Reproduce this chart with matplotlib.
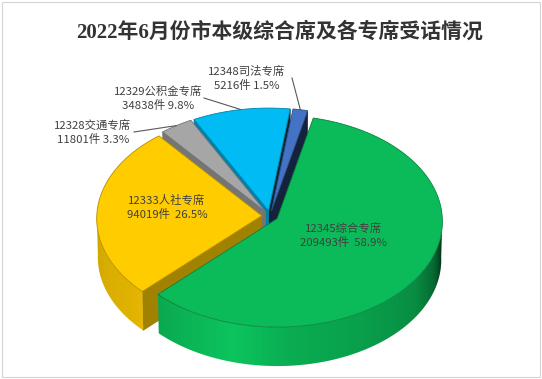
import numpy as np
import matplotlib.pyplot as plt
from matplotlib.patches import Polygon, Rectangle
from matplotlib.colors import to_rgb

plt.rcParams['font.family'] = ['Noto Sans CJK SC', 'DejaVu Sans']

# data (clockwise from the top, as in the sheet)
names = ['12345综合专席', '12333人社专席', '12328交通专席', '12329公积金专席', '12348司法专席']
calls = [209493, 94019, 11801, 34838, 5216]
pcts = [58.9, 26.5, 3.3, 9.8, 1.5]
colors = ['#0bbb59', '#ffcc00', '#a6a6a6', '#00bbf4', '#4472c4']
title = '2022年6月份市本级综合席及各专席受话情况'

# fake 3d pie geometry (pixels)
W, H = 542, 379
cx, cy = 270, 216
R = 165
alpha = np.radians(39.8)
S, C = np.sin(alpha), np.cos(alpha)
D = 30.0        # camera distance, in radii
h = 0.307       # thickness, in radii
explode = 0.05
start = 13.0    # first slice angle, deg clockwise from 12 o'clock

# lighting vs. direction of the face normal (0 = back, 180 = front)
light_ang = [0, 90, 100, 110, 125, 150, 175, 195, 215, 230, 250, 270, 360]
light_val = [0.1, 0.1, 0.3, 0.55, 0.75, 0.85, 0.92, 1.05, 0.95, 0.88, 0.85, 0.8, 0.8]


def proj(u, v, z):
    w = v * C - z * S
    s = D / (D + w)
    return cx + R * u * s, cy - R * (v * S + z * C) * s, w


def shade(col, k):
    return tuple(np.clip(np.array(to_rgb(col)) * k, 0, 1))


def light(n):
    return np.interp(np.asarray(n) % 360, light_ang, light_val)


fig = plt.figure(figsize=(W / 100, H / 100), dpi=100)
ax = fig.add_axes([0, 0, 1, 1])
ax.set_xlim(0, W)
ax.set_ylim(H, 0)
ax.axis('off')
ax.add_patch(Rectangle((1.5, 1.5), W - 4, H - 4, fill=False, ec='#d4d4d4', lw=0.8))

vals = np.array(calls, dtype=float)
fr = vals / vals.sum()
edges = start + np.concatenate([[0], np.cumsum(fr) * 360])

walls = []   # (depth, kind, data)
tops = []
for i in range(len(vals)):
    a0, a1 = edges[i], edges[i + 1]
    am = np.radians((a0 + a1) / 2)
    ou, ov = explode * np.sin(am), explode * np.cos(am)
    col = colors[i]

    phis = np.radians(np.linspace(a0, a1, max(4, int((a1 - a0) * 2))))
    top = [proj(ou, ov, 0)[:2]] + [proj(ou + np.sin(p), ov + np.cos(p), 0)[:2] for p in phis]
    tops.append((top, col))

    # outer curved wall, only the part facing the viewer (90..270 deg)
    lo, hi = max(a0, 90.0), min(a1, 270.0)
    if hi > lo:
        ph = np.radians(np.linspace(lo, hi, 200))
        up = [proj(ou + np.sin(p), ov + np.cos(p), 0) for p in ph]
        dn = [proj(ou + np.sin(p), ov + np.cos(p), -h) for p in ph[::-1]]
        depth = np.mean([q[2] for q in up + dn])
        xs = np.array([q[0] for q in up])
        walls.append((depth, 'wall', ([q[:2] for q in up + dn], xs, np.degrees(ph), col)))

    # radial cut faces
    for ang, nrm in ((a0, a0 - 90), (a1, a1 + 90)):
        if np.cos(np.radians(nrm)) >= 0:
            continue
        p = np.radians(ang)
        pts = [proj(ou, ov, 0), proj(ou + np.sin(p), ov + np.cos(p), 0),
               proj(ou + np.sin(p), ov + np.cos(p), -h), proj(ou, ov, -h)]
        depth = np.mean([q[2] for q in pts])
        walls.append((depth, 'cut', ([q[:2] for q in pts], shade(col, 0.8 * light(nrm)))))

z = 2
for depth, kind, data in sorted(walls, key=lambda t: -t[0]):
    if kind == 'cut':
        pts, fc = data
        ax.add_patch(Polygon(pts, closed=True, fc=fc, ec=fc, lw=0.5, zorder=z))
    else:
        pts, xs, degs, col = data
        poly = Polygon(pts, closed=True, fc='none', ec='none', zorder=z)
        ax.add_patch(poly)
        order = np.argsort(xs)
        x0, x1 = xs.min() - 1, xs.max() + 1
        y0 = min(q[1] for q in pts) - 1
        y1 = max(q[1] for q in pts) + 1
        gx = np.linspace(x0, x1, 400)
        gdeg = np.interp(gx, xs[order], degs[order])
        base = np.array(to_rgb(col))
        img = np.clip(base[None, :] * light(gdeg)[:, None], 0, 1)[None, :, :]
        im = ax.imshow(img, extent=[x0, x1, y1, y0], aspect='auto',
                       interpolation='bilinear', zorder=z)
        im.set_clip_path(poly)
    z += 1

for pts, col in tops:
    ax.add_patch(Polygon(pts, closed=True, fc=col, ec=shade(col, 0.7), lw=0.6, zorder=z))

ax.set_xlim(0, W)
ax.set_ylim(H, 0)

# labels
txt = dict(fontsize=8.2, color='#404040', ha='center', va='center', zorder=z + 1)
line2 = ['%d件  %.1f%%', '%d件  %.1f%%', '%d件 %.1f%%', '%d件 %.1f%%', '%d件 %.1f%%']
lab_xy = [(344, 228), (167, 200), (93, 125), (158, 91), (247, 71)]
for i in range(len(vals)):
    x, y = lab_xy[i]
    ax.text(x, y, names[i], **txt)
    ax.text(x, y + 14, line2[i] % (calls[i], pcts[i]), **txt)

# leader lines for the small slices
lead_from = {2: (134, 132), 3: (204, 98), 4: (292, 78)}
for i, (x0, y0) in lead_from.items():
    am = np.radians((edges[i] + edges[i + 1]) / 2)
    ou, ov = explode * np.sin(am), explode * np.cos(am)
    x1, y1, _ = proj(ou + np.sin(am), ov + np.cos(am), 0)
    ax.plot([x0, x1], [y0, y1], color='#595959', lw=0.8, zorder=z + 1)

ax.text(280, 33, title, fontsize=15, fontweight='bold', color='#333333',
        ha='center', va='center', family=['Liberation Serif', 'Noto Sans CJK SC'])

fig.savefig('out.png', dpi=100)
